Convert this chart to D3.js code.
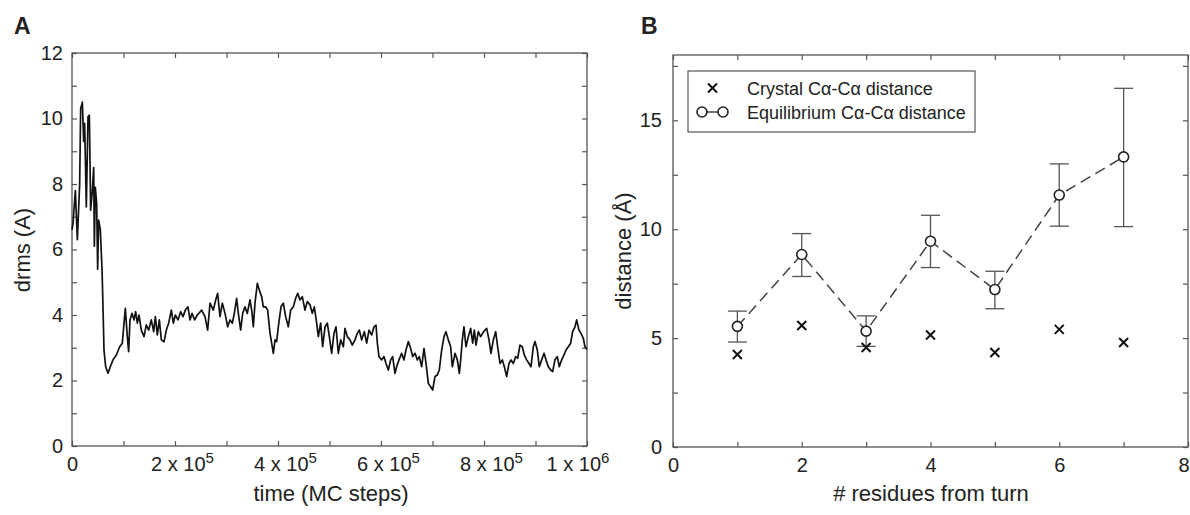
<!DOCTYPE html>
<html>
<head>
<meta charset="utf-8">
<script src="https://cdn.jsdelivr.net/npm/d3@7"></script>
<style>
    body { margin: 0; background: #fff; }
    svg text { font-family: "Liberation Sans", Arial, sans-serif; fill: #222; }
</style>
</head>
<body>
<div id="chart"></div>
<script>
// panel A: drms trace, [time in thousands of MC steps, drms]
const drmsTrace = [
    [0, 6.6], [2, 6.8], [6.5, 7.8], [10.4, 6.3], [14.9, 8.0], [16.8, 10.3], [20.1, 10.5], [22.7, 9.3],
    [24.6, 9.85], [27.8, 7.3], [31.1, 10.05], [33.7, 10.1], [36.2, 7.2], [39.5, 7.8], [42.1, 8.5], [43.4, 6.1],
    [45.3, 7.9], [47.9, 7.4], [49.8, 5.4], [51.8, 6.9], [55.0, 6.6], [58.3, 5.4], [60.2, 4.25], [62.1, 2.93],
    [65.4, 2.42], [69.9, 2.22], [74.4, 2.42], [79.6, 2.63], [86.1, 2.78], [92.6, 3.03], [97.7, 3.14], [101, 3.75],
    [103.6, 4.2], [107.4, 3.34], [110, 2.88], [112.6, 3.85], [116.5, 4.05], [120.4, 3.85], [123.6, 4.1], [126.9, 3.75],
    [130.1, 4.0], [134.6, 3.54], [139.8, 3.34], [144.3, 3.7], [148.9, 3.54], [154, 3.85], [158.6, 3.49], [161.8, 3.95],
    [165.7, 3.39], [169.6, 3.85], [173.5, 3.24], [178.6, 3.18], [183.2, 3.54], [187.7, 3.75], [192.9, 4.15], [196.8, 3.75],
    [200.6, 4.0], [205.8, 3.85], [211, 4.1], [215.5, 3.95], [220.1, 4.15], [225.2, 4.25], [229.1, 3.85], [233, 4.05],
    [238.2, 3.85], [243.4, 4.0], [251.8, 4.15], [258.2, 3.95], [263.4, 3.54], [268, 4.36], [274.4, 4.15], [279, 4.46],
    [282.8, 4.66], [287.4, 3.95], [291.9, 4.36], [297.1, 4.05], [302.3, 3.64], [306.8, 3.85], [311.3, 3.75], [315.2, 4.05],
    [319.7, 4.51], [323, 4.05], [327.5, 3.54], [331.4, 4.05], [335.9, 4.25], [340.4, 4.05], [345.6, 4.46], [348.9, 4.15],
    [352.1, 3.64], [355.3, 4.36], [359.9, 4.97], [363.7, 4.76], [368.3, 4.56], [371.5, 4.25], [376, 4.25], [379.9, 4.15],
    [384.5, 3.44], [387.7, 3.14], [390.9, 2.83], [394.2, 3.24], [397.4, 3.19], [400.6, 3.64], [405.8, 4.25], [410.3, 4.36],
    [414.9, 3.95], [420, 3.64], [424.6, 4.15], [429.8, 4.25], [434.3, 4.51], [438.2, 4.66], [442.7, 4.46], [447.2, 4.56],
    [452.4, 4.15], [456.9, 4.41], [462.1, 4.31], [466.6, 4.05], [470.5, 4.25], [475.1, 3.75], [478.3, 3.34], [482.8, 3.75],
    [486.7, 3.03], [491.3, 3.64], [495.8, 3.75], [499.7, 3.34], [504.2, 2.83], [508.7, 3.44], [512.6, 3.64], [517.1, 2.83],
    [521.7, 3.24], [526.9, 3.03], [530.1, 3.59], [534.6, 3.34], [539.8, 3.24], [544.3, 3.08], [549.5, 3.24], [554, 3.44],
    [557.9, 3.54], [562.4, 3.24], [567.6, 3.49], [572.2, 3.14], [576.7, 3.54], [581.9, 3.39], [586.4, 3.64], [590.3, 3.69],
    [592.9, 3.14], [596.1, 2.73], [601.3, 2.63], [605.8, 2.73], [609.7, 2.52], [614.2, 2.32], [618.8, 2.63], [622.6, 2.73],
    [627.2, 2.22], [630.4, 2.42], [634.9, 2.63], [640.1, 2.83], [644.6, 2.63], [648.5, 2.93], [653.1, 3.19], [657.6, 2.98],
    [661.5, 2.73], [666, 2.83], [670.5, 2.63], [674.4, 2.73], [679, 2.42], [683.5, 2.98], [687.4, 2.52], [691.9, 1.91],
    [696.4, 1.81], [700.3, 1.71], [704.8, 2.12], [709.4, 2.17], [713.2, 2.32], [717.8, 2.93], [722.3, 3.34], [726.2, 3.49],
    [730.7, 3.24], [735.3, 3.03], [738.5, 2.42], [743.7, 2.83], [748.2, 2.63], [752.1, 2.22], [754.7, 2.63], [757.9, 3.24],
    [761.1, 3.64], [765, 3.03], [769.6, 3.34], [774.1, 3.59], [778, 3.14], [781.2, 3.54], [784.4, 3.08], [789, 3.49],
    [793.5, 3.34], [797.4, 3.44], [801.9, 3.54], [805.2, 3.59], [809.7, 3.24], [813.6, 2.83], [818.1, 3.24], [822.7, 3.49],
    [826.5, 3.03], [831.1, 2.52], [835.6, 2.63], [839.5, 2.42], [844, 2.12], [848.5, 2.52], [852.4, 2.63], [856.9, 2.52],
    [861.5, 2.73], [865.4, 2.68], [869.9, 3.08], [874.4, 3.03], [878.3, 2.78], [882.8, 2.63], [887.4, 2.52], [891.2, 2.42],
    [895.8, 3.03], [899, 3.19], [903.5, 2.93], [907.4, 2.42], [912, 2.63], [916.5, 2.83], [920.4, 2.63], [924.9, 2.42],
    [929.4, 2.32], [933.3, 2.27], [937.8, 2.63], [942.4, 2.73], [946.2, 2.42], [950.8, 2.63], [955.3, 2.78], [959.2, 2.93],
    [963.7, 3.03], [968.3, 3.14], [972.1, 3.49], [976.7, 3.64], [979.9, 3.85], [984.4, 3.54], [988.3, 3.44], [992.8, 3.29],
    [996.1, 3.03], [1000, 2.95]
];
const xTicksA = [0, 2e5, 4e5, 6e5, 8e5, 1e6];
const xMinorA = [1e5, 3e5, 5e5, 7e5, 9e5];
const yTicksA = [0, 2, 4, 6, 8, 10, 12];
const yMinorA = [1, 3, 5, 7, 9, 11];

// panel B: distances per residue
const residues = [1, 2, 3, 4, 5, 6, 7];
const crystalDist = [4.25, 5.58, 4.57, 5.14, 4.34, 5.4, 4.8];
const equilDist = [5.54, 8.84, 5.32, 9.45, 7.23, 11.57, 13.32];
const equilHigh = [6.24, 9.8, 6.02, 10.64, 8.07, 13.0, 16.47];
const equilLow = [4.82, 7.83, 4.62, 8.24, 6.35, 10.14, 10.12];
const xTicksB = [0, 2, 4, 6, 8];
const xMinorB = [1, 3, 5, 7];
const yTicksB = [0, 5, 10, 15];
const yMinorB = [2.5, 7.5, 12.5, 17.5];
const legendLabels = ["Crystal C\u03b1-C\u03b1 distance", "Equilibrium C\u03b1-C\u03b1 distance"];

const w = 1190;
const h = 515;
const frameColor = "#555";
const tickFont = 20;
const titleFont = 22;

const svg = d3.select("#chart").append("svg").attr("width", w).attr("height", h);

// full box with inward ticks on all four sides
function drawFrame(xScale, yScale, xMajor, xMinor, yMajor, yMinor) {
    const [x0, x1] = xScale.range();
    const [y0, y1] = yScale.range();
    const g = svg.append("g");
    const sides = [
        [d3.axisBottom(xScale), `translate(0,${y0})`, xMajor, xMinor],
        [d3.axisTop(xScale), `translate(0,${y1})`, xMajor, xMinor],
        [d3.axisLeft(yScale), `translate(${x0},0)`, yMajor, yMinor],
        [d3.axisRight(yScale), `translate(${x1},0)`, yMajor, yMinor]
    ];
    for (const [axis, tr, major, minor] of sides) {
        g.append("g").attr("transform", tr)
            .call(axis.tickValues(major.concat(minor)).tickSizeInner(-5).tickSizeOuter(0).tickFormat(""));
    }
    g.selectAll(".domain").remove();
    g.selectAll(".tick line").attr("stroke", frameColor).attr("stroke-width", 1.2);
    g.append("rect")
        .attr("x", x0).attr("y", y1)
        .attr("width", x1 - x0).attr("height", y0 - y1)
        .attr("fill", "none").attr("stroke", frameColor).attr("stroke-width", 1.3);
}

function styleLabels(g) {
    g.selectAll(".domain").remove();
    g.selectAll(".tick line").remove();
    g.selectAll("text").attr("font-size", tickFont).attr("font-family", null).attr("fill", "#222");
}

/* ---------- panel A ---------- */
const xA = d3.scaleLinear().domain([0, 1e6]).range([72, 587]);
const yA = d3.scaleLinear().domain([0, 12]).range([446, 53]);

drawFrame(xA, yA, xTicksA, xMinorA, yTicksA, yMinorA);

svg.append("path")
    .datum(drmsTrace)
    .attr("fill", "none")
    .attr("stroke", "#111")
    .attr("stroke-width", 1.7)
    .attr("stroke-linejoin", "round")
    .attr("d", d3.line().x((d) => xA(d[0] * 1000)).y((d) => yA(d[1])));

const yAxisA = svg.append("g").attr("transform", `translate(72,0)`)
    .call(d3.axisLeft(yA).tickValues(yTicksA).tickSize(0).tickPadding(9));
styleLabels(yAxisA);

const xAxisA = svg.append("g").attr("transform", `translate(0,446)`)
    .call(d3.axisBottom(xA).tickValues(xTicksA).tickSize(0).tickPadding(11));
styleLabels(xAxisA);
// "2 x 10^5" style labels
xAxisA.selectAll(".tick text").each(function (d) {
    const t = d3.select(this).text(null);
    if (d === 0) {
        t.text("0");
        return;
    }
    const e = Math.floor(Math.log10(d));
    const m = Math.round(d / 10 ** e);
    t.attr("dx", d === 1e6 ? -9.5 : 7);
    t.append("tspan").text(`${m} x 10`);
    t.append("tspan").attr("dy", -8).attr("font-size", 15).text(e);
});

svg.append("text").attr("x", 14).attr("y", 34)
    .attr("font-size", 23).attr("font-weight", "bold").text("A");
svg.append("text").attr("x", 331).attr("y", 501)
    .attr("text-anchor", "middle").attr("font-size", titleFont).text("time (MC steps)");
svg.append("text").attr("transform", "translate(30,250) rotate(-90)")
    .attr("text-anchor", "middle").attr("font-size", titleFont).text("drms (A)");

/* ---------- panel B ---------- */
const xB = d3.scaleLinear().domain([0, 8]).range([673, 1188]);
const yB = d3.scaleLinear().domain([0, 18]).range([447, 55]);

drawFrame(xB, yB, xTicksB, xMinorB, yTicksB, yMinorB);

const yAxisB = svg.append("g").attr("transform", `translate(673,0)`)
    .call(d3.axisLeft(yB).tickValues(yTicksB).tickSize(0).tickPadding(11));
styleLabels(yAxisB);
const xAxisB = svg.append("g").attr("transform", `translate(0,447)`)
    .call(d3.axisBottom(xB).tickValues(xTicksB).tickSize(0).tickPadding(11));
styleLabels(xAxisB);
// last label would run past the page edge
xAxisB.selectAll(".tick text").filter((d) => d === 8).attr("text-anchor", "end").attr("dx", 1);

// error bars
const capW = 9.5;
const bars = svg.append("g").attr("stroke", frameColor).attr("stroke-width", 1.3);
residues.forEach((r, i) => {
    const x = xB(r);
    bars.append("line").attr("x1", x).attr("x2", x).attr("y1", yB(equilLow[i])).attr("y2", yB(equilHigh[i]));
    bars.append("line").attr("x1", x - capW).attr("x2", x + capW).attr("y1", yB(equilLow[i])).attr("y2", yB(equilLow[i]));
    bars.append("line").attr("x1", x - capW).attr("x2", x + capW).attr("y1", yB(equilHigh[i])).attr("y2", yB(equilHigh[i]));
});

svg.append("path")
    .datum(equilDist)
    .attr("fill", "none")
    .attr("stroke", "#444")
    .attr("stroke-width", 1.5)
    .attr("stroke-dasharray", "11,6")
    .attr("d", d3.line().x((d, i) => xB(residues[i])).y((d) => yB(d)));

svg.selectAll("circle.equil")
    .data(equilDist)
    .enter()
    .append("circle")
    .attr("class", "equil")
    .attr("cx", (d, i) => xB(residues[i]))
    .attr("cy", (d) => yB(d))
    .attr("r", 5)
    .attr("fill", "#fff")
    .attr("stroke", "#222")
    .attr("stroke-width", 1.6);

const cross = (g, x, y, s) => {
    g.append("path")
        .attr("d", `M${x - s},${y - s}L${x + s},${y + s}M${x - s},${y + s}L${x + s},${y - s}`)
        .attr("stroke", "#111").attr("stroke-width", 2).attr("fill", "none");
};
const crosses = svg.append("g");
residues.forEach((r, i) => cross(crosses, xB(r), yB(crystalDist[i]), 4.5));

// legend
const legend = svg.append("g");
legend.append("rect")
    .attr("x", 688).attr("y", 71).attr("width", 287).attr("height", 61)
    .attr("fill", "#fff").attr("stroke", frameColor).attr("stroke-width", 1.2);
cross(legend, 712.5, 88, 4.5);
legend.append("line").attr("x1", 702).attr("x2", 723).attr("y1", 112).attr("y2", 112)
    .attr("stroke", "#444").attr("stroke-width", 1.5);
[702, 723].forEach((cx) => {
    legend.append("circle").attr("cx", cx).attr("cy", 112).attr("r", 5)
        .attr("fill", "#fff").attr("stroke", "#222").attr("stroke-width", 1.6);
});
legendLabels.forEach((txt, i) => {
    legend.append("text").attr("x", 747).attr("y", 94.5 + i * 24)
        .attr("font-size", 18).text(txt);
});

svg.append("text").attr("x", 641).attr("y", 34)
    .attr("font-size", 23).attr("font-weight", "bold").text("B");
svg.append("text").attr("x", 931).attr("y", 501)
    .attr("text-anchor", "middle").attr("font-size", titleFont).text("# residues from turn");
svg.append("text").attr("transform", "translate(631,251) rotate(-90)")
    .attr("text-anchor", "middle").attr("font-size", titleFont).text("distance (\u00c5)");
</script>
</body>
</html>
